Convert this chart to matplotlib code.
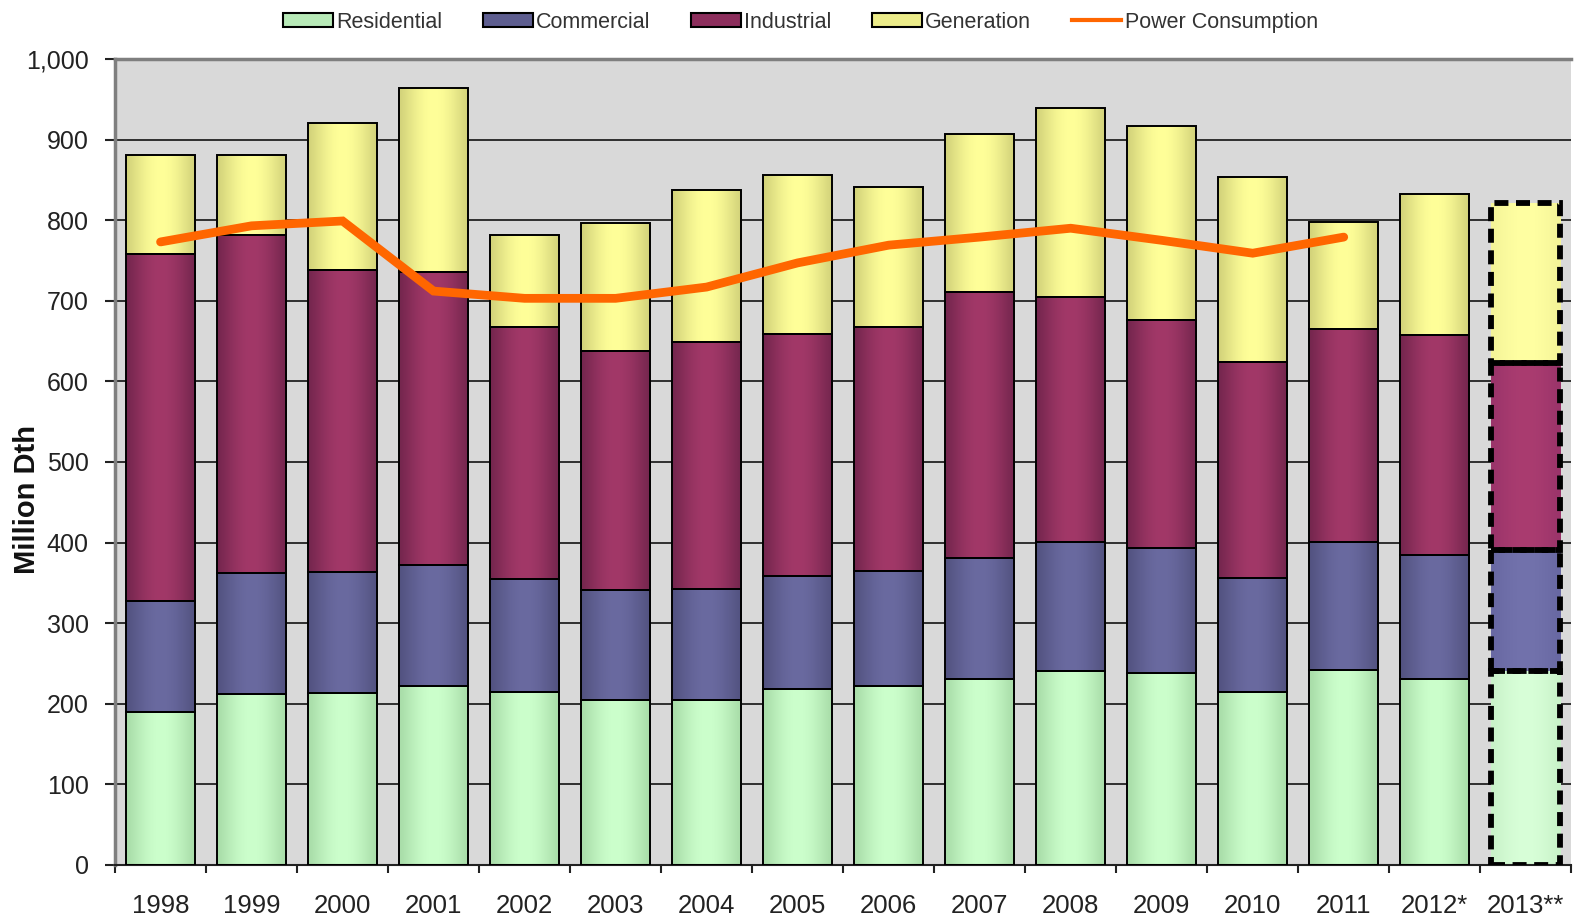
import numpy as np
import matplotlib
matplotlib.use("Agg")
import matplotlib.pyplot as plt
from matplotlib.patches import Patch
from matplotlib.lines import Line2D

plt.rcParams['font.family'] = ['Liberation Sans', 'DejaVu Sans']

years = ['1998', '1999', '2000', '2001', '2002', '2003', '2004', '2005',
         '2006', '2007', '2008', '2009', '2010', '2011', '2012*', '2013**']
residential = [190, 212, 213, 222, 215, 205, 205, 218, 222, 230, 241, 238, 215, 242, 230, 241]
commercial = [137, 150, 150, 150, 140, 136, 137, 141, 143, 151, 160, 155, 141, 159, 155, 150]
industrial = [431, 420, 375, 364, 313, 297, 307, 300, 302, 330, 304, 283, 268, 264, 272, 232]
generation = [123, 99, 182, 228, 113, 159, 188, 197, 174, 196, 234, 241, 230, 133, 176, 198]
power_years = years[:14]
power = [773, 793, 799, 712, 703, 703, 717, 747, 769, 779, 790, 775, 759, 779]

series = [
    ('Residential', residential, '#a8dca8', '#ccffcc', '#c8f2c8', '#d8ffd8'),
    ('Commercial', commercial, '#525280', '#6a6aa0', '#6868a2', '#7272ac'),
    ('Industrial', industrial, '#74264e', '#a23868', '#9a346a', '#aa3c70'),
    ('Generation', generation, '#d2d27a', '#ffff99', '#f4f498', '#ffffa2'),
]

fig = plt.figure(figsize=(15.76, 9.22), dpi=100)
ax = fig.add_axes([0.073, 0.062, 0.924, 0.874])
ax.set_facecolor('#d9d9d9')

x = np.arange(len(years))
n_hist = len(years) - 1
width = 0.76


def hex2rgb(h):
    return np.array(matplotlib.colors.to_rgb(h))


t = np.linspace(-1, 1, 128)
wgt = np.cos(t * np.pi / 2) ** 1.2

bottom = np.zeros(len(years))
for name, vals, edge_c, center_c, edge2, center2 in series:
    vals = np.array(vals, dtype=float)
    bars = ax.bar(x, vals, width, bottom=bottom, facecolor='none',
                  edgecolor='black', linewidth=1.4, zorder=3)
    for i, rect in enumerate(bars.patches):
        if i == n_hist:
            e, c = hex2rgb(edge2), hex2rgb(center2)
            rect.set_linestyle((0, (2.4, 1.3)))
            rect.set_linewidth(4.2)
            rect.set_zorder(4)
        else:
            e, c = hex2rgb(edge_c), hex2rgb(center_c)
        grad = e[None, :] + (c - e)[None, :] * wgt[:, None]
        img = grad[None, :, :]
        x0 = rect.get_x()
        x1 = x0 + rect.get_width()
        y0 = rect.get_y()
        y1 = y0 + rect.get_height()
        im = ax.imshow(img, extent=(x0, x1, y0, y1), aspect='auto',
                       interpolation='bilinear', zorder=2)
        im.set_clip_path(rect)
    bottom += vals

ax.plot(np.arange(len(power_years)), power, color='#ff6600', linewidth=6.3,
        solid_capstyle='round', solid_joinstyle='miter', zorder=5)

ax.set_xlim(-0.5, len(years) - 0.5)
ax.set_ylim(0, 1000)
ax.set_yticks(np.arange(0, 1001, 100))
ax.set_yticklabels([f'{v:,}' for v in range(0, 1001, 100)])
ax.yaxis.grid(True, color='#222222', linewidth=1.3, zorder=1)
ax.set_axisbelow(True)

ax.set_xticks(x)
ax.set_xticklabels(years)
ax.set_xticks(np.arange(-0.5, len(years), 1), minor=True)
ax.tick_params(axis='x', which='major', length=0, pad=21, labelsize=18.5, colors='#222222')
ax.tick_params(axis='x', which='minor', length=6, width=1.5, direction='out', color='#222222')
ax.tick_params(axis='y', which='major', length=7, width=1.5, direction='out',
               labelsize=18, colors='#222222', pad=12)

ax.spines['right'].set_visible(False)
ax.spines['top'].set_color('#7f7f7f')
ax.spines['top'].set_linewidth(2.5)
ax.spines['left'].set_color('#7f7f7f')
ax.spines['left'].set_linewidth(2.5)
ax.spines['bottom'].set_color('#222222')
ax.spines['bottom'].set_linewidth(1.5)

fig.text(0.017, 0.458, 'Million Dth', rotation=90, ha='center', va='center',
         fontsize=21, fontweight='bold', color='#111111')

handles = [
    Patch(facecolor='#b8eab8', edgecolor='black', linewidth=1.5, label='Residential'),
    Patch(facecolor='#5e5e90', edgecolor='black', linewidth=1.5, label='Commercial'),
    Patch(facecolor='#8c2e5c', edgecolor='black', linewidth=1.5, label='Industrial'),
    Patch(facecolor='#ecec8a', edgecolor='black', linewidth=1.5, label='Generation'),
    Line2D([0], [0], color='#ff6600', linewidth=3, label='Power Consumption'),
]
leg = fig.legend(handles=handles, loc='center', bbox_to_anchor=(0.508, 0.976), ncol=5,
                 frameon=False, fontsize=15.5, handlelength=2.3, handleheight=0.6,
                 handletextpad=0.15, columnspacing=1.9, labelcolor='#333333')

fig.savefig('out.png', dpi=100)
